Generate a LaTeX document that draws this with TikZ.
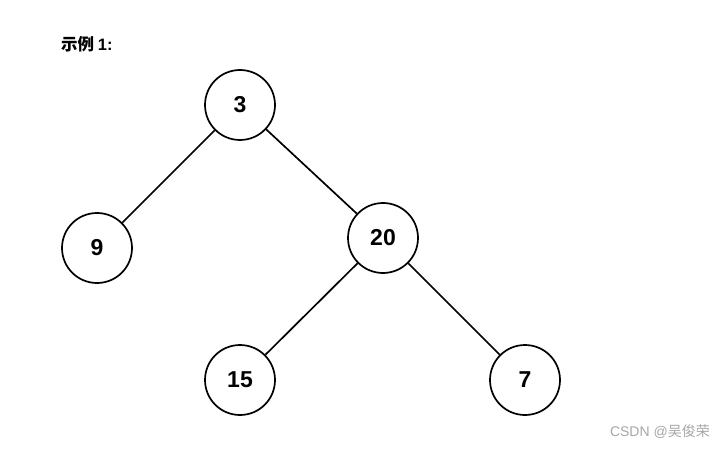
\documentclass[tikz,border=0pt]{standalone}
\usepackage{fontspec}
\setmainfont{Liberation Sans}
\newfontfamily\cjk{Noto Sans CJK SC}
\usepackage{tikz}

\begin{document}
\begin{tikzpicture}[x=1pt,y=-1pt]
				\useasboundingbox[fill=white] (0,0) rectangle (725,449);
				\tikzset{treenode/.style={shape=circle,draw=black,line width=1.7pt,minimum size=70pt,inner sep=0pt,font=\fontsize{23}{23}\selectfont\bfseries}}
				
				\node[anchor=west,inner sep=0pt,font=\fontsize{16.5}{16.5}\selectfont\bfseries] (title) at (61,44) {\cjk 示例\ \rmfamily 1:};
				
				\node[treenode] (n3) at (240,105) {3};
				\node[treenode] (n9) at (97,248) {9};
				\node[treenode] (n20) at (383,238) {20};
				\node[treenode] (n15) at (240,380) {15};
				\node[treenode] (n7) at (525,380) {7};
				
				\path [line width=1.7pt](n3) edge (n9);
				\path [line width=1.7pt](n3) edge (n20);
				\path [line width=1.7pt](n20) edge (n15);
				\path [line width=1.7pt](n20) edge (n7);
				
				\node[anchor=east,inner sep=0pt,text=black!35,font=\fontsize{14}{14}\selectfont] (mark) at (710,432) {CSDN @{\cjk 吴俊荣}};
			\end{tikzpicture}
\end{document}
